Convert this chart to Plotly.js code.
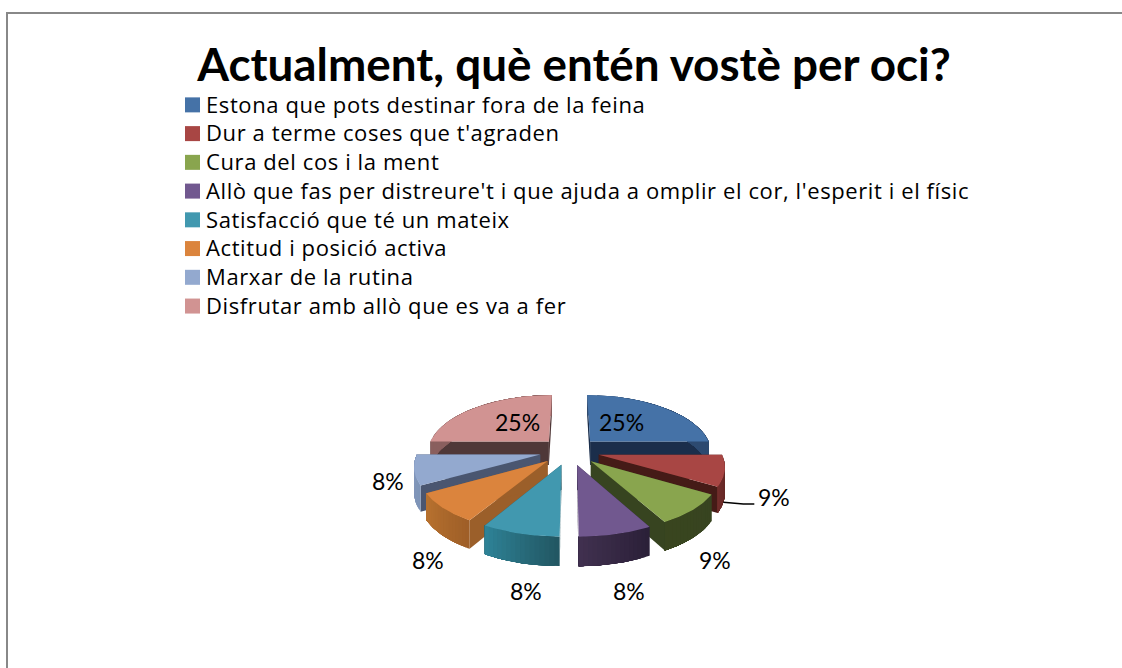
<!DOCTYPE html>
<html><head><meta charset="utf-8">
<script src="https://cdn.plot.ly/plotly-3.0.1.min.js"></script>
<style>html,body{margin:0;padding:0;background:#fff}#c{width:1122px;height:668px}
.legend .legendtext{font-size:22px !important;letter-spacing:0.6px}</style>
</head><body><div id="c"></div>
<script>
const chartTitle = "Actualment, què entén vostè per oci?";
const categories = ["Estona que pots destinar fora de la feina","Dur a terme coses que t'agraden","Cura del cos i la ment","Allò que fas per distreure't i que ajuda a omplir el cor, l'esperit i el físic","Satisfacció que té un mateix","Actitud i posició activa","Marxar de la rutina","Disfrutar amb allò que es va a fer"];
const values = [25,8.6,8.6,7.8,8.33,8.33,8.34,25];
const colors = ["#4572a7","#a84644","#89a54e","#71588f","#4198af","#db843d","#93a9cf","#d19392"];
const cutColors = ["#1b2e4b","#451b17","#374420","#2e2340","#225763","#9b5f2a","#4a5670","#4f3838"];
const wallLeft = ["#2d4a70","#702d2b","#39451f","#40304f","#2e8296","#b8722f","#8196bb","#8a5f5e"];
const wallRight = ["#2d4a70","#5a2320","#374420","#2b2038","#225763","#9f5f28","#7f95b8","#8a5f5e"];
const drawOrder = [7,0,6,1,5,2,4,3];

const G = {cx:569.5, cy:451, R:122, k:0.46, px:0.17, py:0.152, d:30, h:24};
const labelPos = [
  {f:0.42,dx:-1,dy:4},{f:1.5,dx:-18,dy:-18},{f:1.82,dx:-87,dy:0},{f:1.62,dx:-20,dy:0},
  {f:1.63,dx:42,dy:0},{f:1.87,dx:103,dy:0},{f:1.66,dx:64,dy:0},{f:0.42,dx:1,dy:4}];

function proj(X,Y,drop){
  const v=Y/G.R;
  return [G.cx+X/(1-G.px*v), G.cy+(Y*G.k+(drop?G.h:0))/(1-G.py*v)];
}
function hex(c){return [1,3,5].map(i=>parseInt(c.substr(i,2),16));}
function mix(a,b,t){const A=hex(a),B=hex(b);return 'rgb('+A.map((x,i)=>Math.round(x+(B[i]-x)*t)).join(',')+')';}
function poly(pts,color){
  return {type:'scatter',mode:'lines',x:pts.map(p=>p[0]),y:pts.map(p=>p[1]),fill:'toself',fillcolor:color,
    line:{color:color,width:0},showlegend:false,hoverinfo:'skip'};
}
const total = values.reduce((a,b)=>a+b,0);
let acc=0;
const slices = values.map(v=>{const a0=acc/total*2*Math.PI; acc+=v; const a1=acc/total*2*Math.PI; return {a0,a1,m:(a0+a1)/2};});
const traces=[];
drawOrder.forEach(i=>{
  const s=slices[i];
  const ax=G.d*Math.sin(s.m), ay=-G.d*Math.cos(s.m);
  const N=32;
  const rim=[];
  for(let j=0;j<=N;j++){const a=s.a0+(s.a1-s.a0)*j/N; rim.push([ax+G.R*Math.sin(a),ay-G.R*Math.cos(a)]);}
  [rim[0],rim[N]].forEach(e=>{
    traces.push(poly([proj(ax,ay,0),proj(e[0],e[1],0),proj(e[0],e[1],1),proj(ax,ay,1)],cutColors[i]));
  });
  const SEG=16;
  for(let q=0;q<SEG;q++){
    const top=[],bot=[];
    for(let j=q*N/SEG;j<=N;j++){top.push(proj(rim[j][0],rim[j][1],0));bot.unshift(proj(rim[j][0],rim[j][1],1));}
    traces.push(poly(top.concat(bot),mix(wallRight[i],wallLeft[i],q/(SEG-1))));
  }
  traces.push(poly([proj(ax,ay,0)].concat(rim.map(p=>proj(p[0],p[1],0))),colors[i]));
});
categories.forEach((c,i)=>traces.push({type:'scatter',mode:'markers',x:[null],y:[null],name:c,
  marker:{symbol:'square',size:15,color:colors[i]},hoverinfo:'skip'}));
const red=slices[1];
const rAx=G.d*Math.sin(red.m), rAy=-G.d*Math.cos(red.m);
const lead=proj(rAx+G.R*Math.sin(red.m+0.1),rAy-G.R*Math.cos(red.m+0.1),1);
traces.push({type:'scatter',mode:'lines',x:[lead[0],lead[0]+20,lead[0]+31],y:[lead[1],504,504],
  line:{color:'#000',width:1.5},showlegend:false,hoverinfo:'skip'});

const annotations=values.map((v,i)=>{
  const s=slices[i],L=labelPos[i];
  const ax=G.d*Math.sin(s.m), ay=-G.d*Math.cos(s.m);
  const p=proj(ax+L.f*G.R*Math.sin(s.m),ay-L.f*G.R*Math.cos(s.m),0);
  return {x:p[0],y:p[1],xref:'x',yref:'y',text:Math.round(v/total*100)+'%',showarrow:false,xshift:L.dx,yshift:L.dy,
    font:{family:'Lato',size:23,color:'#000'}};
});
const layout={
  width:1122,height:668,margin:{l:0,r:0,t:0,b:0},paper_bgcolor:'#fff',plot_bgcolor:'#fff',
  title:{text:'<b>'+chartTitle+'</b>',x:574/1122,xanchor:'center',y:1-65/668,yanchor:'middle',
    font:{family:'Lato',size:45.8,color:'#000'}},
  xaxis:{range:[0,1122],visible:false,fixedrange:true},
  yaxis:{range:[668,0],visible:false,fixedrange:true},
  showlegend:true,
  legend:{x:166/1122,y:1-85.5/668,xanchor:'left',yanchor:'top',bgcolor:'rgba(0,0,0,0)',
    font:{family:'Open Sans',size:19.8,color:'#000'},itemclick:false,itemdoubleclick:false},
  shapes:[{type:'path',xref:'x',yref:'y',path:'M 7 668 L 7 13 L 1122 13',line:{color:'#888888',width:2}}],
  annotations
};
Plotly.newPlot('c',traces,layout,{displayModeBar:false,staticPlot:true}).then(()=>{
  document.querySelectorAll('.legend .legendsymbols').forEach(e=>e.setAttribute('transform','translate(6.5,0)'));
  document.querySelectorAll('.legend .scrollbox').forEach(e=>{e.removeAttribute('clip-path');e.style.clipPath='none';});
  const lg=document.querySelector('.legend');
  if(lg){lg.removeAttribute('clip-path');lg.style.clipPath='none';lg.style.overflow='visible';}
});
</script></body></html>
